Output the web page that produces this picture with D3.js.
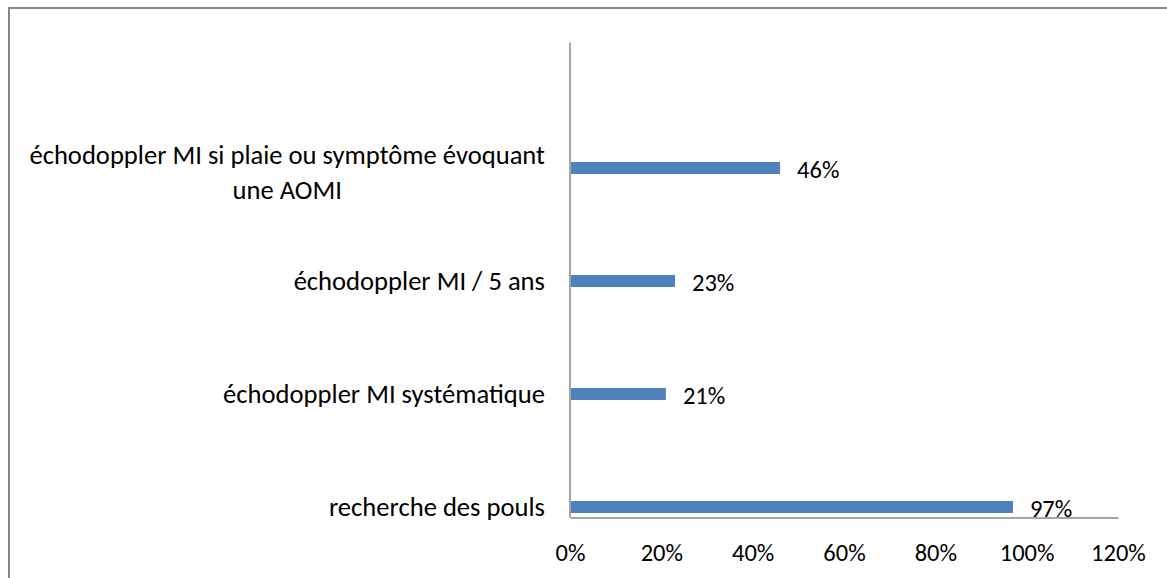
<!DOCTYPE html>
<html>
<head>
<meta charset="utf-8">
<script src="https://cdn.jsdelivr.net/npm/d3@7"></script>
<style>
  html, body { margin: 0; padding: 0; background: #fff; overflow: hidden; }
  svg text { font-family: Carlito, Lato, "Open Sans", sans-serif; fill: #000; }
</style>
</head>
<body>
<div id="chart"></div>
<script>
// categories top to bottom, each one an array of label lines
const categories = [
	["échodoppler MI si plaie ou symptôme évoquant", "une AOMI"],
	["échodoppler MI / 5 ans"],
	["échodoppler MI systématique"],
	["recherche des pouls"]
];
const values = [0.46, 0.23, 0.21, 0.97];
const xTicks = [0, 0.2, 0.4, 0.6, 0.8, 1.0, 1.2];

const width = 1167, height = 578;
const labelSize = 26.6, numSize = 24.5;

const svg = d3.select("#chart").append("svg")
	.attr("width", width).attr("height", height);

// outer frame (right and bottom edges are off the picture)
svg.append("rect")
	.attr("x", 9).attr("y", 8)
	.attr("width", width + 20).attr("height", height + 20)
	.attr("fill", "none").attr("stroke", "#878787").attr("stroke-width", 2);

// scales
const x = d3.scaleLinear([0, 1.2], [570, 1118]);
const keys = categories.map((c) => c.join(" "));
const y = d3.scalePoint(keys, [168, 507]);
const barH = 12;

// axes (no tick marks, just the lines and labels)
const axisX = svg.append("g")
	.attr("transform", `translate(0, 517.5)`)
	.call(d3.axisBottom(x).tickValues(xTicks).tickSize(0).tickPadding(26)
		.tickFormat(d3.format(".0%")));
axisX.select(".domain").attr("stroke", "#878787").attr("stroke-width", 1.5);
axisX.selectAll("text").attr("font-size", numSize).attr("font-family", null);

svg.append("line")
	.attr("x1", x(0)).attr("x2", x(0))
	.attr("y1", 42.5).attr("y2", 517.5)
	.attr("stroke", "#878787").attr("stroke-width", 1.5);

// bars
svg.selectAll("rect.bar")
	.data(values)
	.join("rect")
	.classed("bar", true)
	.attr("x", x(0) + 1)
	.attr("y", (d, i) => y(keys[i]) - barH / 2)
	.attr("width", (d) => x(d) - x(0) - 1)
	.attr("height", barH)
	.attr("fill", "#4F81BD");

// value labels
svg.selectAll("text.val")
	.data(values)
	.join("text")
	.classed("val", true)
	.attr("x", (d) => x(d) + 17)
	.attr("y", (d, i) => y(keys[i]) + 1)
	.attr("dy", "0.35em")
	.attr("font-size", numSize)
	.text((d) => d3.format(".0%")(d));

// category labels, right aligned block, lines centred on each other
const labelRight = 545, lineGap = 35;
categories.forEach((lines, i) => {
	const cy = y(keys[i]) + (lines.length > 1 ? 4 : 0);
	const g = svg.append("g");
	const texts = lines.map((t, j) => g.append("text")
		.attr("font-size", labelSize)
		.attr("dy", "0.35em")
		.attr("y", cy + (j - (lines.length - 1) / 2) * lineGap)
		.text(t));
	const widest = d3.max(texts, (t) => t.node().getComputedTextLength());
	const mid = labelRight - widest / 2;
	texts.forEach((t) => t.attr("x", mid).attr("text-anchor", "middle"));
});
</script>
</body>
</html>
